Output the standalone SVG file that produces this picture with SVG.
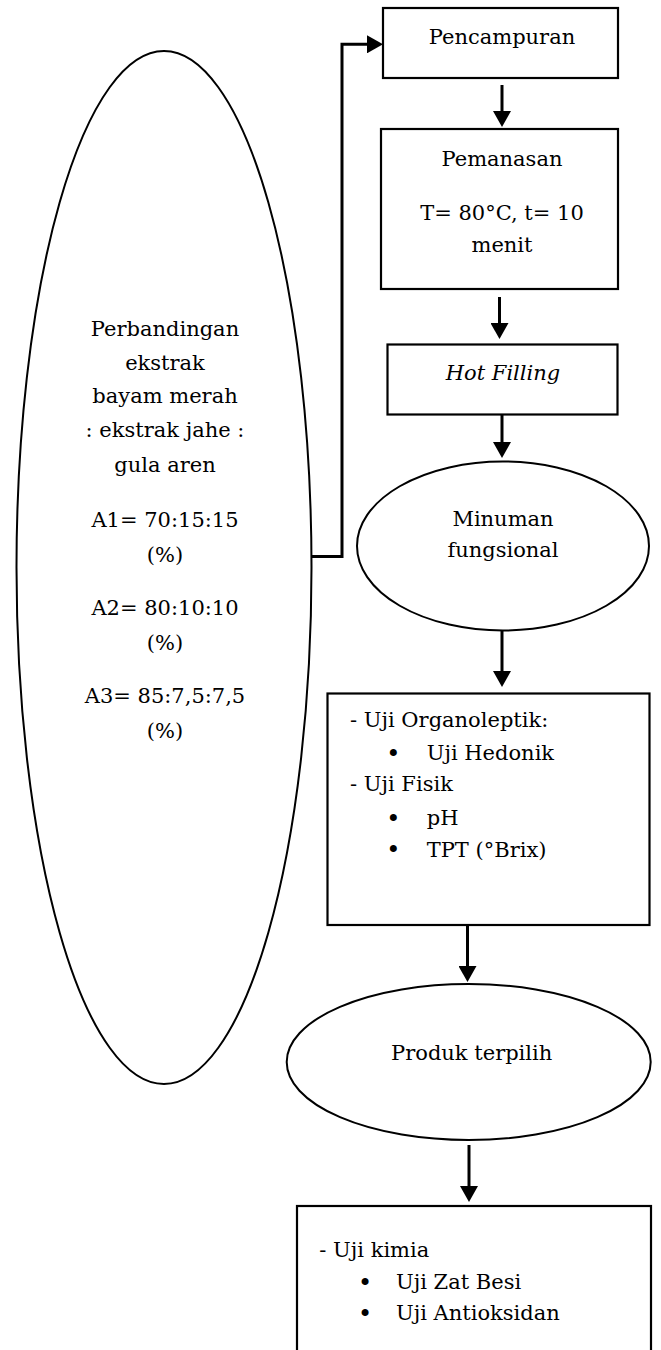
<svg xmlns="http://www.w3.org/2000/svg" width="661" height="1350" viewBox="0 0 661 1350">
<style>
  .box { fill: #fff; stroke: #000; stroke-width: 2.2; }
  .ell { fill: #fff; stroke: #000; stroke-width: 2; }
  .t { font-family: "DejaVu Serif", "Liberation Serif", serif; font-size: 21px; fill: #000; }
  .c { text-anchor: middle; }
  .b { font-family: "DejaVu Serif", "Liberation Serif", serif; font-size: 24px; fill: #000; text-anchor: middle; }
  .it { font-style: italic; }
  .con { fill: none; stroke: #000; stroke-width: 3; }
</style>
<defs>
  <marker id="ah" markerUnits="userSpaceOnUse" markerWidth="16" markerHeight="18" refX="0" refY="9" orient="auto">
    <path d="M0,0 L16,9 L0,18 Z" fill="#000"/>
  </marker>
</defs>
<rect width="661" height="1350" fill="#fff"/>

<g id="connectors">
  <path class="con" d="M306.5,556.5 H342 V44.3 H367" marker-end="url(#ah)"/>
  <line class="con" x1="502" y1="85" x2="502" y2="111" marker-end="url(#ah)"/>
  <line class="con" x1="499.5" y1="297" x2="499.5" y2="323" marker-end="url(#ah)"/>
  <line class="con" x1="502" y1="414" x2="502" y2="442" marker-end="url(#ah)"/>
  <line class="con" x1="502" y1="631" x2="502" y2="671" marker-end="url(#ah)"/>
  <line class="con" x1="467.5" y1="925" x2="467.5" y2="966" marker-end="url(#ah)"/>
  <line class="con" x1="469" y1="1145" x2="469" y2="1186" marker-end="url(#ah)"/>
</g>

<g id="node-perbandingan">
  <ellipse class="ell" cx="164" cy="567.5" rx="147.5" ry="516.5"/>
  <text class="t c" x="165" y="335.7">Perbandingan</text>
  <text class="t c" x="165" y="370">ekstrak</text>
  <text class="t c" x="165" y="403.3">bayam merah</text>
  <text class="t c" x="165" y="437.3">: ekstrak jahe :</text>
  <text class="t c" x="165" y="471.7">gula aren</text>
  <text class="t c" x="165" y="526.7">A1= 70:15:15</text>
  <text class="t c" x="165" y="561.7">(%)</text>
  <text class="t c" x="165" y="615">A2= 80:10:10</text>
  <text class="t c" x="165" y="650">(%)</text>
  <text class="t c" x="165" y="703.3">A3= 85:7,5:7,5</text>
  <text class="t c" x="165" y="738.3">(%)</text>
</g>

<g id="node-pencampuran">
  <rect class="box" x="383" y="8" width="235" height="70"/>
  <text class="t c" x="502" y="44">Pencampuran</text>
</g>

<g id="node-pemanasan">
  <rect class="box" x="381" y="129" width="237" height="160"/>
  <text class="t c" x="502" y="166">Pemanasan</text>
  <text class="t c" x="502" y="220">T= 80°C, t= 10</text>
  <text class="t c" x="502" y="252">menit</text>
</g>

<g id="node-hotfilling">
  <rect class="box" x="387.5" y="344.5" width="230" height="70"/>
  <text class="t c it" x="503" y="379.5">Hot Filling</text>
</g>

<g id="node-minuman">
  <ellipse class="ell" cx="503" cy="546" rx="146" ry="84.5"/>
  <text class="t c" x="503" y="526">Minuman</text>
  <text class="t c" x="503" y="556.7">fungsional</text>
</g>

<g id="node-uji">
  <rect class="box" x="327.5" y="693.5" width="322" height="231.5"/>
  <text class="t" x="350" y="726.7">- Uji Organoleptik:</text>
  <text class="b" x="393.3" y="761.5">•</text>
  <text class="t" x="426.7" y="760">Uji Hedonik</text>
  <text class="t" x="350" y="791">- Uji Fisik</text>
  <text class="b" x="393.3" y="826.5">•</text>
  <text class="t" x="426.7" y="825">pH</text>
  <text class="b" x="393.3" y="858.2">•</text>
  <text class="t" x="426.7" y="856.7">TPT (°Brix)</text>
</g>

<g id="node-produk">
  <ellipse class="ell" cx="468.7" cy="1062" rx="182" ry="78"/>
  <text class="t c" x="471.7" y="1060">Produk terpilih</text>
</g>

<g id="node-kimia">
  <rect class="box" x="297" y="1206" width="354" height="160"/>
  <text class="t" x="319.3" y="1256.7">- Uji kimia</text>
  <text class="b" x="365" y="1290.5">•</text>
  <text class="t" x="396" y="1289">Uji Zat Besi</text>
  <text class="b" x="365" y="1321.5">•</text>
  <text class="t" x="396" y="1320">Uji Antioksidan</text>
</g>
</svg>
